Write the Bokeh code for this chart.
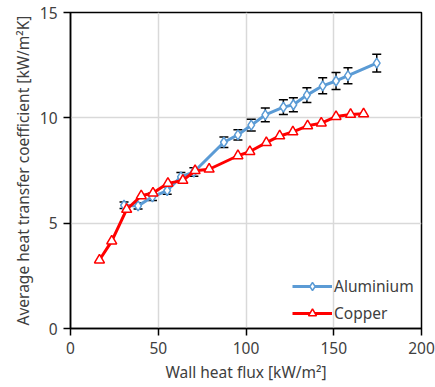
from bokeh.plotting import figure
from bokeh.models import ColumnDataSource, Whisker, TeeHead, Legend, LegendItem, Range1d, FixedTicker
from bokeh.embed import file_html
from bokeh.resources import INLINE

# Data
x_al = [30.5, 38.5, 46.7, 55.1, 62.9, 70.3, 87.4, 95.4, 103.0, 111.0, 121.3, 127.0, 134.7, 143.7, 151.3, 158.1, 174.5]
y_al = [5.85, 5.82, 6.25, 6.55, 7.20, 7.43, 8.84, 9.19, 9.65, 10.14, 10.51, 10.62, 11.08, 11.52, 11.75, 12.00, 12.60]
err_al = [0.15, 0.15, 0.17, 0.18, 0.20, 0.20, 0.25, 0.24, 0.28, 0.33, 0.35, 0.33, 0.35, 0.38, 0.40, 0.38, 0.42]

x_cu = [16.5, 23.5, 32.0, 40.3, 47.0, 55.5, 64.0, 71.0, 79.0, 95.4, 102.2, 111.6, 119.2, 126.7, 135.1, 142.9, 151.3, 159.6, 167.0]
y_cu = [3.25, 4.15, 5.65, 6.30, 6.43, 6.89, 7.03, 7.49, 7.56, 8.20, 8.40, 8.82, 9.14, 9.33, 9.62, 9.75, 10.06, 10.16, 10.19]

x_ticks = [0, 50, 100, 150, 200]
y_ticks = [0, 5, 10, 15]
series_names = ["Aluminium", "Copper"]
x_title = "Wall heat flux [kW/m²]"
y_title = "Average heat transfer coefficient [kW/m²K]"

BLUE = "#5B9BD5"
RED = "#FF0000"
TXT = "#404040"
FONT = "Noto Sans"

src_al = ColumnDataSource(dict(x=x_al, y=y_al,
                               lo=[a - e for a, e in zip(y_al, err_al)],
                               hi=[a + e for a, e in zip(y_al, err_al)]))
src_cu = ColumnDataSource(dict(x=x_cu, y=y_cu))

p = figure(frame_width=351, frame_height=316, output_backend="svg", toolbar_location=None,
           x_range=Range1d(0, 200), y_range=Range1d(0, 15))
p.min_border_left = 70
p.min_border_right = 14
p.min_border_top = 12
p.min_border_bottom = 59
p.background_fill_color = "white"
p.border_fill_color = "white"
p.outline_line_color = "black"
p.outline_line_width = 1.5

for ax in (p.xaxis, p.yaxis):
    ax.axis_line_color = "black"
    ax.axis_line_width = 1.5
    ax.major_tick_line_color = "black"
    ax.major_tick_line_width = 1.5
    ax.major_tick_out = 7
    ax.major_tick_in = 0
    ax.minor_tick_line_color = None
    ax.major_label_text_font = FONT
    ax.major_label_text_font_size = "15.5px"
    ax.major_label_text_color = TXT
    ax.axis_label_text_font = FONT
    ax.axis_label_text_font_size = "15.5px"
    ax.axis_label_text_font_style = "normal"
    ax.axis_label_text_color = TXT

p.xaxis.ticker = FixedTicker(ticks=x_ticks)
p.yaxis.ticker = FixedTicker(ticks=y_ticks)
p.xaxis.axis_label = x_title
p.yaxis.axis_label = y_title
p.xaxis.major_label_standoff = 6
p.yaxis.major_label_standoff = 6
p.xaxis.axis_label_standoff = 4
p.yaxis.axis_label_standoff = 3

p.xgrid.ticker = FixedTicker(ticks=x_ticks)
p.ygrid.ticker = FixedTicker(ticks=y_ticks)
p.grid.grid_line_color = "#D9D9D9"
p.grid.grid_line_width = 1.5

# Aluminium
l_al = p.line("x", "y", source=src_al, line_color=BLUE, line_width=3)
s_al = p.scatter("x", "y", source=src_al, marker="diamond", size=10,
                 line_color=BLUE, line_width=1.5, fill_color="white")
wh = Whisker(source=src_al, base="x", lower="lo", upper="hi",
             line_color="black", line_width=1.5,
             upper_head=TeeHead(size=9, line_color="black", line_width=1.5),
             lower_head=TeeHead(size=9, line_color="black", line_width=1.5))
p.add_layout(wh)

# Copper
l_cu = p.line("x", "y", source=src_cu, line_color=RED, line_width=3)
s_cu = p.scatter("x", "y", source=src_cu, marker="triangle", size=10,
                 line_color=RED, line_width=1.5, fill_color="white")

legend = Legend(items=[LegendItem(label=series_names[0], renderers=[l_al, s_al]),
                       LegendItem(label=series_names[1], renderers=[l_cu, s_cu])],
                location=(222, 4))
legend.border_line_color = None
legend.background_fill_alpha = 0
legend.label_text_font = FONT
legend.label_text_font_size = "15.5px"
legend.label_text_color = TXT
legend.glyph_width = 40
legend.glyph_height = 20
legend.spacing = 5
legend.padding = 4
legend.label_standoff = 2
p.add_layout(legend)

open("out.html", "w").write(file_html(p, INLINE))
